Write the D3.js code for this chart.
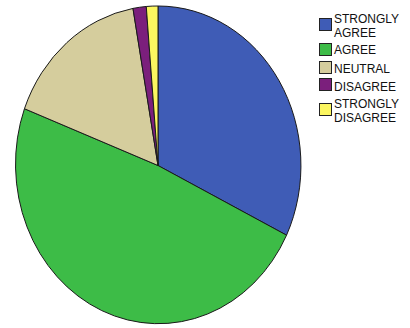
<!DOCTYPE html>
<html>
<head>
<meta charset="utf-8">
<script src="https://cdn.jsdelivr.net/npm/d3@7"></script>
<style>
  body { margin: 0; background: #fff; }
  svg { display: block; }
</style>
</head>
<body>
<svg width="410" height="328"></svg>
<script>
// chart data
const categories = ["STRONGLY AGREE", "AGREE", "NEUTRAL", "DISAGREE", "STRONGLY DISAGREE"];
const values = [32.2, 48.6, 16.4, 1.5, 1.3];
const colors = ["#3f5cb6", "#3dbc47", "#d5cd9d", "#7b1f7c", "#fbf660"];
// legend labels split in lines
const legendLines = [["STRONGLY", "AGREE"], ["AGREE"], ["NEUTRAL"], ["DISAGREE"], ["STRONGLY", "DISAGREE"]];

const svg = d3.select("svg");

// pie is drawn slightly elliptical, like the original
const cx = 158, cy = 165.5, rx = 143, ry = 159.5;

const pie = d3.pie().sort(null).startAngle(0).endAngle(2 * Math.PI);
const arc = d3.arc().innerRadius(0).outerRadius(1);

svg.append("g")
  .attr("transform", "translate(" + cx + "," + cy + ") scale(" + rx + "," + ry + ")")
  .selectAll("path")
  .data(pie(values))
  .join("path")
    .attr("d", arc)
    .attr("fill", (d, i) => colors[i])
    .attr("stroke", "#1a1a1a")
    .attr("stroke-width", 1)
    .attr("vector-effect", "non-scaling-stroke");

// legend
const squareY = [18, 43, 61, 78, 103];
const textY = [23, 54, 73, 91, 108];

const legend = svg.append("g").attr("id", "legend");
categories.forEach(function(c, i) {
  legend.append("rect")
    .attr("x", 319.5)
    .attr("y", squareY[i] + 0.5)
    .attr("width", 12)
    .attr("height", 12)
    .attr("fill", colors[i])
    .attr("stroke", "#222")
    .attr("stroke-width", 1);
  legend.append("text")
    .attr("font-family", "Liberation Sans, Arial, sans-serif")
    .attr("font-size", "12px")
    .attr("fill", "#111")
    .selectAll("tspan")
    .data(legendLines[i])
    .join("tspan")
      .attr("x", 334)
      .attr("y", (d, j) => textY[i] + j * 13.5)
      .text(d => d);
});
</script>
</body>
</html>
